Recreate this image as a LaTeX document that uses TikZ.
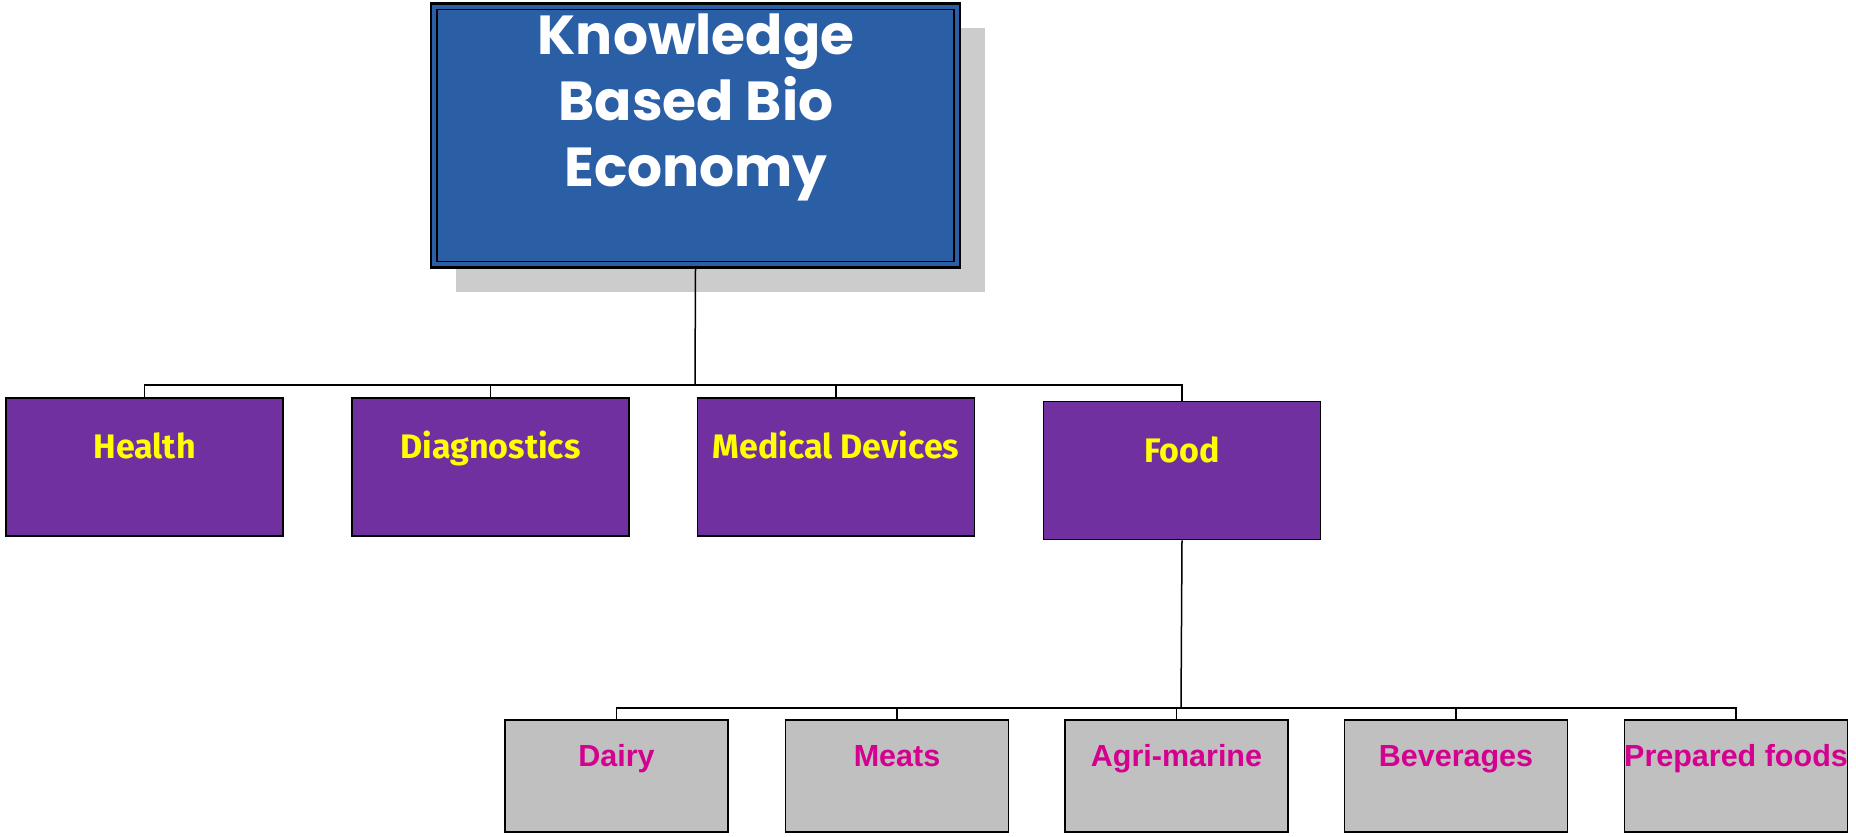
\documentclass[tikz,border=0pt]{standalone}
\usepackage{fontspec}
\setmainfont{Liberation Sans}
\newfontfamily\titlefont{Poppins}
\newfontfamily\midfont{Fira Sans}
\definecolor{topblue}{HTML}{2A5FA6}
\definecolor{shadowgray}{HTML}{CCCCCC}
\definecolor{purplebox}{HTML}{7030A0}
\definecolor{graybox}{HTML}{C0C0C0}
\definecolor{magtext}{HTML}{D4008F}
\definecolor{yeltext}{HTML}{FFFF00}
\begin{document}
\begin{tikzpicture}[x=1pt,y=-1pt,
  midbox/.style={rectangle,draw=black,line width=1.8pt,fill=purplebox,minimum width=277pt,minimum height=138pt,inner sep=0pt},
  lowbox/.style={rectangle,draw=black,line width=1.8pt,fill=graybox,minimum width=223pt,minimum height=112pt,inner sep=0pt},
  toptext/.style={font=\titlefont\bfseries\fontsize{55}{65}\selectfont,text=white,inner sep=0pt,anchor=base},
  midtext/.style={font=\midfont\bfseries\fontsize{34}{38}\selectfont,text=yeltext,inner sep=0pt,anchor=base},
  lowtext/.style={font=\bfseries\fontsize{30.5}{34}\selectfont,text=magtext,inner sep=0pt,anchor=base},
  conn/.style={line width=1.5pt,draw=black}]
\useasboundingbox (0,0) rectangle (1856,836);
\fill[white] (0,0) rectangle (1856,836);
% top box
\node[rectangle,fill=shadowgray,minimum width=529pt,minimum height=264pt,inner sep=0pt] (shadow) at (720.5,159.5) {};
\node[rectangle,fill=topblue,draw=black,line width=2.6pt,minimum width=529pt,minimum height=264pt,inner sep=0pt] (top) at (695.5,135.5) {};
\node[rectangle,draw=black,line width=1.4pt,minimum width=517pt,minimum height=252pt,inner sep=0pt] (topinner) at (top.center) {};
\node[toptext] (toptext1) at (696,54) {Knowledge};
\node[toptext] (toptext2) at (696,120) {Based Bio};
\node[toptext] (toptext3) at (696,186) {Economy};
% middle row
\node[midbox] (health) at (144.5,467) {};
\node[midbox] (diag) at (490.5,467) {};
\node[midbox] (med) at (836,467) {};
\node[midbox] (food) at (1182,470.5) {};
\node[midtext] (thealth) at ([yshift=-61pt]health.north) {Health};
\node[midtext] (tdiag) at ([yshift=-61pt]diag.north) {Diagnostics};
\node[midtext] (tmed) at ([yshift=-61pt]med.north) {Medical Devices};
\node[midtext] (tfood) at ([yshift=-62pt]food.north) {Food};
% bottom row
\node[lowbox] (dairy) at (616.5,776) {};
\node[lowbox] (meats) at (897,776) {};
\node[lowbox] (agri) at (1176.5,776) {};
\node[lowbox] (bev) at (1456,776) {};
\node[lowbox] (prep) at (1736,776) {};
\node[lowtext] (tdairy) at ([yshift=-47pt]dairy.north) {Dairy};
\node[lowtext] (tmeats) at ([yshift=-47pt]meats.north) {Meats};
\node[lowtext] (tagri) at ([yshift=-47pt]agri.north) {Agri-marine};
\node[lowtext] (tbev) at ([yshift=-47pt]bev.north) {Beverages};
\node[lowtext] (tprep) at ([yshift=-47pt]prep.north) {Prepared foods};
% connectors
\coordinate (bus1) at (695,385);
\coordinate (bus2) at (1181,708);
\draw[conn] (top.south) -- (bus1);
\draw[conn] (health.north) |- (bus1) -| (food.north);
\draw[conn] (diag.north) -- (diag.north |- bus1);
\draw[conn] (med.north) -- (med.north |- bus1);
\draw[conn] (food.south) -- (bus2);
\draw[conn] (dairy.north) |- (bus2) -| (prep.north);
\draw[conn] (meats.north) -- (meats.north |- bus2);
\draw[conn] (agri.north) -- (agri.north |- bus2);
\draw[conn] (bev.north) -- (bev.north |- bus2);
\end{tikzpicture}
\end{document}
